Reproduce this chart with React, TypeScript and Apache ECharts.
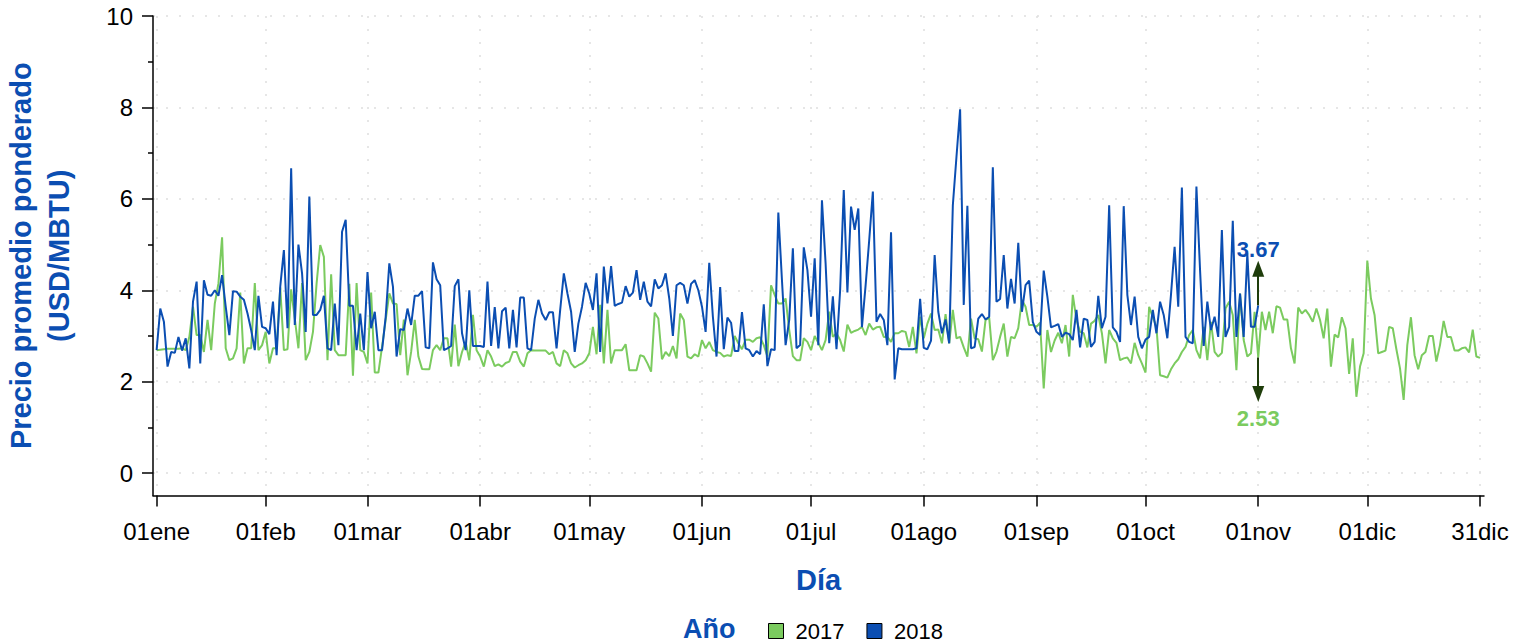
import React, { useEffect, useRef } from 'react';
import * as echarts from 'echarts';

// Daily weighted average price (USD/MBTU), first value = 01 ene (plotted at day 1)
const PRICES_2017 = [
  2.69, 2.70, 2.71, 2.72, 2.72, 2.72, 2.72, 2.73, 2.69, 2.98,
  3.64, 3.02, 3.02, 2.65, 3.35, 2.69, 3.71, 4.15, 5.16, 2.73,
  2.47, 2.51, 2.73, 3.95, 2.40, 2.73, 2.73, 4.16, 2.69, 2.80,
  3.09, 2.40, 2.73, 2.73, 4.06, 2.69, 2.71, 4.02, 3.38, 2.73,
  4.16, 2.47, 2.65, 3.09, 4.15, 4.99, 4.73, 2.47, 4.35, 2.69,
  2.58, 2.58, 2.58, 4.14, 2.13, 4.16, 2.69, 2.65, 2.40, 3.95,
  2.20, 2.20, 2.76, 3.35, 3.93, 3.71, 3.70, 2.58, 3.36, 2.14,
  2.65, 3.35, 2.55, 2.28, 2.27, 2.27, 2.69, 2.80, 2.69, 2.95,
  2.95, 2.33, 3.25, 2.34, 2.65, 2.87, 2.47, 3.46, 2.69, 2.55,
  2.33, 2.69, 2.55, 2.34, 2.38, 2.33, 2.41, 2.44, 2.65, 2.65,
  2.44, 2.33, 2.62, 2.69, 2.68, 2.68, 2.68, 2.68, 2.60, 2.65,
  2.40, 2.34, 2.69, 2.62, 2.40, 2.31, 2.36, 2.40, 2.47, 2.62,
  3.20, 2.60, 3.68, 2.40, 3.57, 2.40, 2.69, 2.69, 2.69, 2.82,
  2.25, 2.25, 2.25, 2.58, 2.55, 2.40, 2.22, 3.51, 3.38, 2.49,
  2.65, 2.56, 2.78, 2.51, 3.49, 3.35, 2.55, 2.51, 2.60, 2.55,
  2.91, 2.73, 2.87, 2.69, 2.65, 2.63, 2.55, 2.58, 2.56, 3.00,
  2.84, 2.71, 2.92, 2.92, 2.87, 2.95, 2.97, 2.80, 2.55, 4.11,
  3.90, 3.71, 3.71, 3.82, 3.13, 2.56, 2.47, 2.47, 2.95, 2.87,
  2.69, 3.00, 2.85, 2.69, 2.91, 3.53, 2.98, 3.06, 2.91, 2.66,
  3.25, 3.07, 3.11, 3.14, 3.20, 3.02, 3.27, 3.14, 3.19, 3.20,
  2.98, 2.98, 2.87, 3.06, 3.06, 3.11, 3.09, 2.76, 3.20, 2.62,
  3.42, 2.95, 3.27, 3.49, 3.13, 3.14, 2.84, 3.48, 2.84, 3.57,
  2.95, 2.98, 2.75, 2.55, 3.38, 2.95, 2.93, 2.66, 3.35, 3.40,
  2.47, 2.66, 2.98, 3.27, 2.55, 2.98, 2.95, 3.17, 3.79, 3.64,
  3.24, 3.24, 3.20, 3.29, 1.85, 3.13, 2.65, 2.90, 3.07, 2.84,
  3.24, 2.55, 3.90, 3.35, 3.09, 3.06, 2.75, 3.27, 3.33, 3.46,
  3.06, 2.40, 3.13, 2.95, 2.85, 2.47, 2.51, 2.53, 2.40, 2.85,
  2.58, 2.40, 2.20, 3.64, 3.41, 3.20, 2.14, 2.12, 2.09, 2.27,
  2.40, 2.49, 2.65, 2.76, 3.02, 3.13, 2.69, 2.51, 3.20, 2.47,
  3.31, 2.65, 2.55, 2.63, 3.60, 3.75, 3.46, 2.25, 3.93, 2.91,
  2.55, 2.62, 3.53, 2.53, 3.53, 3.13, 3.53, 3.06, 3.65, 3.62,
  3.36, 3.36, 2.73, 2.40, 3.62, 3.49, 3.57, 3.46, 3.31, 3.60,
  3.35, 2.95, 3.60, 2.33, 3.03, 2.97, 3.41, 3.17, 2.17, 2.95,
  1.67, 2.33, 2.62, 4.65, 3.82, 3.46, 2.62, 2.65, 2.68, 3.20,
  3.17, 2.71, 2.29, 1.60, 2.80, 3.41, 2.58, 2.27, 2.58, 2.65,
  3.00, 3.00, 2.44, 2.80, 3.33, 2.98, 2.98, 2.68, 2.68, 2.73,
  2.75, 2.64, 3.14, 2.55, 2.52,
];

const PRICES_2018 = [
  2.69, 3.60, 3.31, 2.33, 2.65, 2.63, 2.98, 2.68, 2.95, 2.29,
  3.75, 4.19, 2.40, 4.22, 3.90, 3.88, 4.00, 3.88, 4.33, 3.64,
  3.02, 3.98, 3.97, 3.86, 3.79, 3.49, 3.13, 2.69, 3.88, 3.20,
  3.17, 3.04, 3.75, 2.58, 4.08, 4.88, 3.17, 6.67, 3.24, 5.00,
  4.37, 3.09, 6.05, 3.46, 3.46, 3.57, 3.88, 2.73, 2.69, 3.71,
  2.80, 5.28, 5.54, 3.66, 3.66, 2.69, 3.49, 2.69, 4.40, 3.17,
  3.53, 2.69, 2.69, 3.42, 4.59, 4.08, 2.55, 3.15, 3.13, 3.60,
  3.24, 3.88, 3.88, 3.98, 2.75, 2.73, 4.61, 4.24, 4.11, 2.69,
  2.73, 2.78, 4.09, 4.24, 3.06, 2.69, 4.00, 2.78, 2.78, 2.78,
  2.76, 4.19, 2.78, 3.63, 2.73, 3.54, 3.62, 2.73, 3.57, 2.75,
  3.84, 3.84, 2.73, 2.69, 3.38, 3.79, 3.49, 3.35, 3.52, 3.52,
  2.73, 3.57, 4.37, 3.93, 3.53, 2.65, 3.27, 3.64, 4.16, 3.93,
  3.57, 4.37, 2.65, 4.52, 3.71, 4.53, 3.66, 3.70, 3.73, 4.09,
  3.86, 3.95, 4.44, 3.79, 4.19, 3.75, 3.65, 4.24, 4.04, 4.11,
  4.37, 3.82, 3.00, 4.11, 4.16, 4.11, 3.71, 4.14, 4.22, 4.00,
  3.64, 3.09, 4.60, 3.42, 2.55, 4.07, 2.71, 3.40, 3.29, 2.67,
  2.67, 3.52, 2.73, 2.69, 2.55, 2.67, 2.60, 3.69, 2.34, 2.71,
  2.69, 5.70, 4.22, 2.80, 3.35, 4.92, 2.73, 2.80, 4.94, 4.44,
  3.42, 4.70, 2.80, 5.97, 4.59, 2.84, 3.87, 2.71, 4.00, 6.19,
  3.95, 5.83, 5.32, 5.79, 3.19, 4.10, 5.10, 6.16, 3.31, 3.48,
  3.35, 2.80, 5.27, 2.05, 2.73, 2.71, 2.71, 2.71, 2.71, 2.73,
  3.81, 2.74, 2.71, 2.90, 4.77, 3.53, 3.06, 3.36, 2.84, 5.86,
  6.92, 7.96, 3.68, 5.85, 2.73, 2.76, 3.38, 3.48, 3.36, 3.42,
  6.69, 3.75, 3.81, 4.77, 3.60, 4.25, 3.71, 5.04, 3.53, 4.11,
  4.21, 3.31, 3.09, 3.02, 4.43, 3.86, 3.19, 3.22, 3.26, 2.98,
  3.07, 3.04, 2.91, 3.57, 2.75, 3.38, 3.35, 2.76, 2.87, 3.88,
  3.17, 3.42, 5.86, 3.19, 3.09, 2.87, 5.84, 3.90, 3.24, 3.86,
  2.98, 2.73, 2.92, 2.98, 3.57, 3.06, 3.75, 3.46, 2.95, 3.90,
  4.95, 3.64, 6.25, 2.98, 2.87, 2.84, 6.27, 4.44, 2.78, 3.75,
  3.13, 3.42, 2.98, 5.32, 2.98, 3.20, 5.52, 2.98, 3.93, 2.98,
  4.81, 3.20, 3.20, 3.67,
];

// Tick positions on the day axis and their labels
const TICK_DAYS = [1, 31, 59, 90, 120, 151, 181, 212, 243, 273, 304, 334, 365];
const TICK_LABELS = ['01ene', '01feb', '01mar', '01abr', '01may', '01jun', '01jul', '01ago', '01sep', '01oct', '01nov', '01dic', '31dic'];
const Y_MAJOR = [0, 2, 4, 6, 8, 10];
const Y_MINOR = [1, 3, 5, 7, 9];
const SERIES_NAMES = ['2017', '2018'];
const MARK_DAY = 304;
const MARK_2018 = 3.67;
const MARK_2017 = 2.53;

const BLUE = '#0B4EB2';
const GREEN = '#7BCB5F';
const ARROW = '#1F3D0B';
const FONT = '"Liberation Sans", Arial, Helvetica, sans-serif';
const ARROW_LEN = 0.8;

export default function App() {
  const ref = useRef<HTMLDivElement>(null);

  useEffect(() => {
    if (!ref.current) return;
    const chart = echarts.init(ref.current, null, { renderer: 'svg' });

    const gridLine = { show: true, lineStyle: { color: '#dedede', type: [2, 11], width: 1.5 } };

    const option: any = {
      animation: false,
      textStyle: { fontFamily: FONT },
      title: {
        text: 'Año',
        left: 683,
        top: 615,
        padding: 0,
        textStyle: { color: BLUE, fontSize: 27, fontWeight: 'bold', fontFamily: FONT },
      },
      legend: {
        data: SERIES_NAMES,
        left: 768,
        top: 620,
        padding: 0,
        itemWidth: 15,
        itemHeight: 15,
        itemGap: 22,
        icon: 'rect',
        itemStyle: { borderColor: '#000', borderWidth: 1 },
        textStyle: { fontSize: 22, color: '#000', fontFamily: FONT, padding: [0, 0, 0, 7] },
      },
      grid: { left: 153, right: 46, top: 16, bottom: 147.5, containLabel: false, outerBoundsMode: 'none' },
      xAxis: {
        type: 'value',
        min: 0,
        max: 366.1,
        name: 'Día',
        nameLocation: 'middle',
        nameGap: 70,
        nameTextStyle: { color: BLUE, fontSize: 29, fontWeight: 'bold', fontFamily: FONT },
        axisLine: { show: true, onZero: false, lineStyle: { color: '#000', width: 1.5 } },
        axisTick: { show: true, customValues: TICK_DAYS, length: 11, lineStyle: { color: '#000', width: 1.5 } },
        axisLabel: {
          customValues: TICK_DAYS,
          formatter: (v: number) => TICK_LABELS[TICK_DAYS.indexOf(Math.round(v))] ?? '',
          fontSize: 24,
          color: '#000',
          margin: 24,
          fontFamily: FONT,
        },
        splitLine: gridLine,
      },
      yAxis: [
        {
          type: 'value',
          min: -0.49,
          max: 10,
          position: 'left',
          name: 'Precio promedio ponderado\n(USD/MBTU)',
          nameLocation: 'middle',
          nameRotate: 90,
          nameGap: 75,
          nameTextStyle: { color: BLUE, fontSize: 29, fontWeight: 'bold', lineHeight: 38, fontFamily: FONT, align: 'center' },
          axisLine: { show: true, onZero: false, lineStyle: { color: '#000', width: 1.5 } },
          axisTick: { show: true, customValues: Y_MAJOR, length: 11, lineStyle: { color: '#000', width: 1.5 } },
          axisLabel: { customValues: Y_MAJOR, fontSize: 24, color: '#000', margin: 20, fontFamily: FONT },
          splitLine: gridLine,
        },
        {
          type: 'value',
          min: -0.49,
          max: 10,
          position: 'left',
          axisLine: { show: false, onZero: false },
          axisTick: { show: true, customValues: Y_MINOR, length: 5, lineStyle: { color: '#000', width: 1.5 } },
          axisLabel: { show: false },
          splitLine: { show: false },
        },
      ],
      series: [
        {
          name: SERIES_NAMES[0],
          type: 'line',
          data: PRICES_2017.map((v, i) => [i + 1, v]),
          symbol: 'none',
          showSymbol: false,
          lineStyle: { color: GREEN, width: 2 },
          itemStyle: { color: GREEN },
          z: 2,
          markLine: {
            silent: true,
            symbol: ['none', 'triangle'],
            symbolSize: [12, 16],
            lineStyle: { color: ARROW, width: 2, type: 'solid' },
            itemStyle: { color: ARROW },
            label: { show: true, position: 'end', formatter: MARK_2017.toFixed(2), color: GREEN, fontWeight: 'bold', fontSize: 22, distance: 13, fontFamily: FONT },
            emphasis: { disabled: true },
            data: [[{ coord: [MARK_DAY, MARK_2017] }, { coord: [MARK_DAY, MARK_2017 - ARROW_LEN] }]],
          },
        },
        {
          name: SERIES_NAMES[1],
          type: 'line',
          data: PRICES_2018.map((v, i) => [i + 1, v]),
          symbol: 'none',
          showSymbol: false,
          lineStyle: { color: BLUE, width: 2 },
          itemStyle: { color: BLUE },
          z: 3,
          markLine: {
            silent: true,
            symbol: ['none', 'triangle'],
            symbolSize: [12, 16],
            lineStyle: { color: ARROW, width: 2, type: 'solid' },
            itemStyle: { color: ARROW },
            label: { show: true, position: 'end', formatter: MARK_2018.toFixed(2), color: BLUE, fontWeight: 'bold', fontSize: 22, distance: 8, fontFamily: FONT },
            emphasis: { disabled: true },
            data: [[{ coord: [MARK_DAY, MARK_2018] }, { coord: [MARK_DAY, MARK_2018 + ARROW_LEN] }]],
          },
        },
      ],
    };

    chart.setOption(option);
    return () => chart.dispose();
  }, []);

  return <div ref={ref} style={{ position: 'absolute', left: 0, top: 0, width: 1530, height: 643 }} />;
}
